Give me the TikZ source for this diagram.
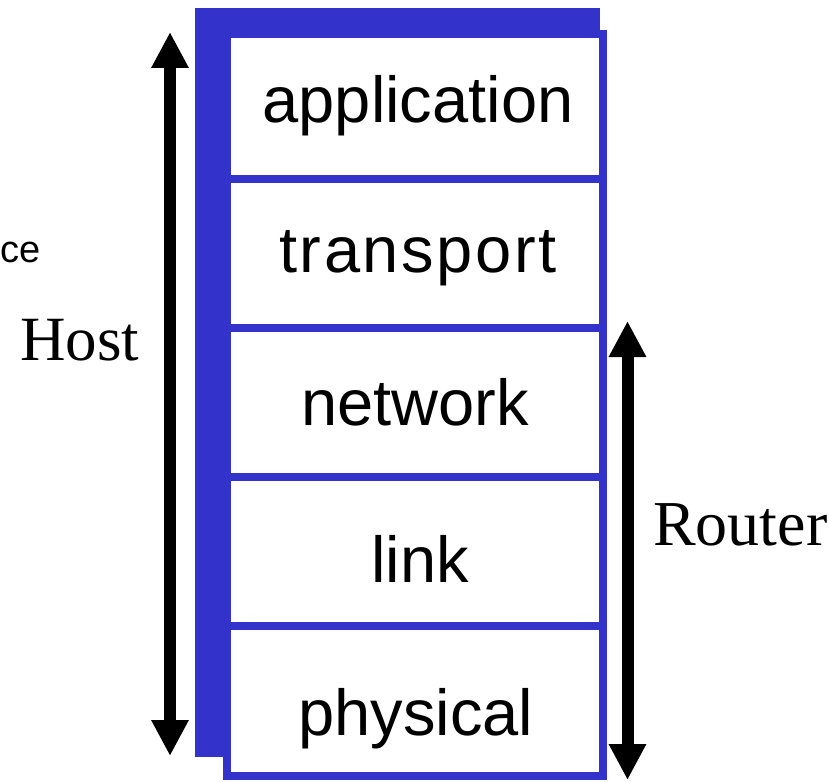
\documentclass[tikz,border=0pt]{standalone}
\usepackage{fontspec}
\setmainfont{Liberation Serif}
\newfontfamily\labfont{Liberation Sans}
\newfontfamily\labfontwide[LetterSpace=4]{Liberation Sans}
\usetikzlibrary{arrows.meta}
\definecolor{stackblue}{RGB}{51,51,204}
\tikzset{
  layerbox/.style={draw=stackblue, fill=white, line width=8pt, inner sep=0pt,
    minimum width=376pt, anchor=north},
  layertext/.style={font=\labfont\fontsize{65}{78}\selectfont, anchor=base, inner sep=0pt},
  sidetext/.style={font=\fontsize{63}{75}\selectfont, anchor=base west, inner sep=0pt},
  bigarrow/.style={line width=12pt, {Triangle[width=35pt,length=36pt]}-{Triangle[width=35pt,length=36pt]}}
}
\begin{document}
\begin{tikzpicture}[x=1pt,y=-1pt]
\useasboundingbox (0,0) rectangle (829,781);
% shadow
\fill[stackblue] (195,8) rectangle (600,757);
% layer boxes
\node[layerbox, minimum height=145pt] (app) at (415,30) {};
\node[layerbox, minimum height=148.5pt] (trans) at (415,175) {};
\node[layerbox, minimum height=149.5pt] (net) at (415,323.5) {};
\node[layerbox, minimum height=149pt] (lnk) at (415,473) {};
\node[layerbox, minimum height=149.5pt] (phys) at (415,622) {};
% labels
\node[layertext] (tapp) at (418,123) {application};
\node[layertext, font=\labfontwide\fontsize{65}{78}\selectfont] (ttrans) at (418,272) {transport};
\node[layertext] (tnet) at (415,425) {network};
\node[layertext] (tlnk) at (420,582) {link};
\node[layertext] (tphys) at (416,735) {physical};
% arrows
\coordinate (hostTop) at (170,32);
\coordinate (hostBot) at (170,756);
\draw[bigarrow] (hostTop) -- (hostBot);
\coordinate (rtTop) at (627.5,321);
\coordinate (rtBot) at (627.5,780);
\draw[bigarrow] (rtTop) -- (rtBot);
% side labels
\node[sidetext] (host) at (20,360) {Host};
\node[sidetext, font=\fontsize{64}{76}\selectfont] (router) at (653,545) {Router};
\node[font=\labfont\fontsize{38}{45}\selectfont, anchor=base west, inner sep=0pt] (ifc) at (0.5,262) {ce};
\end{tikzpicture}
\end{document}
